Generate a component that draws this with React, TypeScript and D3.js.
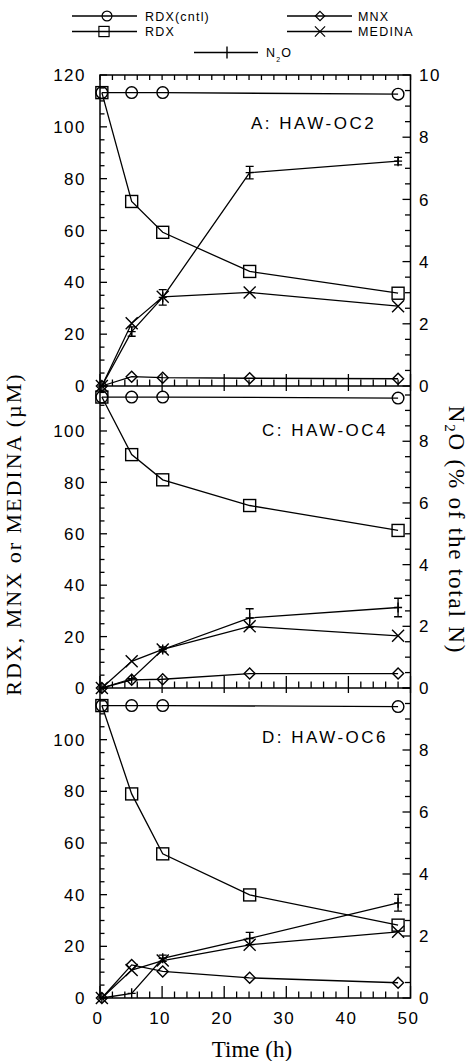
import React from 'react';
import * as d3 from 'd3';

// sampling times (h)
const times = [0.3, 5.1, 10.1, 24.1, 48];
const cntlTimes = [0.3, 5.1, 10.1, 48];

const panelNames = ['A: HAW-OC2', 'C: HAW-OC4', 'D: HAW-OC6'];
const panelYMax = [120, 117.5, 120];

// panel A: HAW-OC2
const rdxCntlA = [113.2, 113.2, 113.2, 112.6];
const rdxA = [113.2, 71.2, 59.3, 44.2, 35.8];
const mnxA = [0, 3.6, 3.2, 3.0, 2.8];
const medinaA = [0, 24.2, 34.4, 36.1, 30.8];
const n2oA = [0, 1.75, 2.85, 6.86, 7.23];
const n2oErrA = [0, 0.15, 0.25, 0.2, 0.12];

// panel C: HAW-OC4
const rdxCntlC = [113.2, 113.2, 113.2, 112.8];
const rdxC = [113.2, 90.8, 81.0, 71.0, 61.3];
const mnxC = [0, 3.2, 3.4, 5.6, 5.6];
const medinaC = [0, 10.4, 15.0, 24.0, 20.3];
const n2oC = [0, 0.3, 1.25, 2.27, 2.61];
const n2oErrC = [0, 0.05, 0.08, 0.3, 0.3];

// panel D: HAW-OC6
const rdxCntlD = [113.2, 113.2, 113.2, 112.8];
const rdxD = [113.2, 79.0, 55.8, 39.9, 28.2];
const mnxD = [0, 12.8, 10.3, 7.8, 5.9];
const medinaD = [0, 10.8, 14.5, 20.6, 25.6];
const n2oD = [0, 0.15, 1.28, 1.92, 3.07];
const n2oErrD = [0, 0.05, 0.1, 0.2, 0.27];

const panelData = [
  { cntl: rdxCntlA, rdx: rdxA, mnx: mnxA, medina: medinaA, n2o: n2oA, err: n2oErrA },
  { cntl: rdxCntlC, rdx: rdxC, mnx: mnxC, medina: medinaC, n2o: n2oC, err: n2oErrC },
  { cntl: rdxCntlD, rdx: rdxD, mnx: mnxD, medina: medinaD, n2o: n2oD, err: n2oErrD },
];

const xTickLabels = [0, 10, 20, 30, 40, 50];

// layout
const W = 468, H = 1061;
const X0 = 100, X1 = 410.5;
const panelTop = [75, 386, 688];
const panelBottom = [386, 688, 998];
const labelPos = [[251, 54], [262, 50], [262, 55]];

const SANS = '"Liberation Sans", Arial, Helvetica, sans-serif';
const SERIF = '"Liberation Serif", "Times New Roman", serif';
const K = '#000';

const x = d3.scaleLinear().domain([0, 50]).range([X0, X1]);

type MarkerKind = 'circle' | 'square' | 'diamond' | 'cross' | 'plus';

function Marker({ kind, cx, cy }: { kind: MarkerKind; cx: number; cy: number }) {
  const p = { fill: 'none', stroke: K, strokeWidth: 1.4 };
  if (kind === 'circle') return <circle cx={cx} cy={cy} r={5.8} {...p} />;
  if (kind === 'square') return <rect x={cx - 6} y={cy - 6} width={12} height={12} {...p} />;
  if (kind === 'diamond')
    return <path d={`M${cx},${cy - 5.5}L${cx + 5.5},${cy}L${cx},${cy + 5.5}L${cx - 5.5},${cy}Z`} {...p} />;
  if (kind === 'cross')
    return <path d={`M${cx - 6},${cy - 6}L${cx + 6},${cy + 6}M${cx - 6},${cy + 6}L${cx + 6},${cy - 6}`} {...p} />;
  return <path d={`M${cx},${cy - 5}L${cx},${cy + 5}M${cx - 4},${cy}L${cx + 4},${cy}`} {...p} />;
}

function Panel({ i }: { i: number }) {
  const top = panelTop[i], bottom = panelBottom[i];
  const yMax = panelYMax[i];
  const y = d3.scaleLinear().domain([0, yMax]).range([bottom, top]);
  const y2 = d3.scaleLinear().domain([0, yMax / 12]).range([bottom, top]);
  const d = panelData[i];
  const line = d3.line<[number, number]>().x(p => p[0]).y(p => p[1]);

  const series: { kind: MarkerKind; pts: [number, number][] }[] = [
    { kind: 'circle', pts: cntlTimes.map((t, j) => [x(t), y(d.cntl[j])]) },
    { kind: 'square', pts: times.map((t, j) => [x(t), y(d.rdx[j])]) },
    { kind: 'diamond', pts: times.map((t, j) => [x(t), y(d.mnx[j])]) },
    { kind: 'cross', pts: times.map((t, j) => [x(t), y(d.medina[j])]) },
    { kind: 'plus', pts: times.map((t, j) => [x(t), y2(d.n2o[j])]) },
  ];

  const leftTicks = d3.range(0, yMax + 0.01, 5);
  const rightTicks = d3.range(0, yMax / 12 + 0.001, 0.5);
  const xTicks = d3.range(0, 50.01, 2);
  const leftLabels = d3.range(0, yMax + 0.01, 20).filter(v => i === 0 || v < yMax - 1);
  const rightLabels = d3.range(0, yMax / 12 + 0.001, 2).filter(v => i === 0 || v < yMax / 12 - 0.1);

  return (
    <g>
      {/* left ticks */}
      {leftTicks.map(v => (
        <line key={'l' + v} x1={X0} x2={X0 + (v % 20 === 0 ? 7 : 4.5)} y1={y(v)} y2={y(v)} stroke={K} strokeWidth={1.3} />
      ))}
      {/* right ticks */}
      {rightTicks.map(v => (
        <line key={'r' + v} x1={X1} x2={X1 - (v % 2 === 0 ? 8 : 5.5)} y1={y2(v)} y2={y2(v)} stroke={K} strokeWidth={1.3} />
      ))}
      {/* bottom ticks (up) */}
      {xTicks.map(v => (
        <line key={'b' + v} x1={x(v)} x2={x(v)} y1={bottom} y2={bottom - (v % 10 === 0 ? 12 : 6.5)} stroke={K} strokeWidth={1.3} />
      ))}
      {/* top ticks (down) */}
      {xTicks.filter(v => i === 0 || v % 10 === 0).map(v => (
        <line key={'t' + v} x1={x(v)} x2={x(v)} y1={top} y2={top + 5} stroke={K} strokeWidth={1.3} />
      ))}
      {leftLabels.map(v => (
        <text key={'ll' + v} x={86} y={y(v)} dy="0.36em" textAnchor="end" fontFamily={SANS} fontSize={17} letterSpacing={1.5}>
          {v}
        </text>
      ))}
      {rightLabels.map(v => (
        <text key={'rl' + v} x={419} y={y2(v)} dy="0.36em" fontFamily={SANS} fontSize={17} letterSpacing={1.5}>
          {v}
        </text>
      ))}
      <text x={labelPos[i][0]} y={top + labelPos[i][1]} fontFamily={SANS} fontSize={17} letterSpacing={2.5}>
        {panelNames[i]}
      </text>
      {series.map((s, k) => (
        <path key={'s' + k} d={line(s.pts) || ''} fill="none" stroke={K} strokeWidth={1.3} />
      ))}
      {/* N2O error bars */}
      {times.map((t, j) =>
        d.err[j] > 0.06 ? (
          <path
            key={'e' + j}
            d={`M${x(t)},${y2(d.n2o[j] - d.err[j])}L${x(t)},${y2(d.n2o[j] + d.err[j])}M${x(t) - 4},${y2(d.n2o[j] - d.err[j])}L${x(t) + 4},${y2(d.n2o[j] - d.err[j])}M${x(t) - 4},${y2(d.n2o[j] + d.err[j])}L${x(t) + 4},${y2(d.n2o[j] + d.err[j])}`}
            fill="none"
            stroke={K}
            strokeWidth={1.3}
          />
        ) : null
      )}
      {series.map((s, k) => s.pts.map((p, j) => <Marker key={'m' + k + '-' + j} kind={s.kind} cx={p[0]} cy={p[1]} />))}
    </g>
  );
}

const legendItems: { label: string; kind: MarkerKind; x1: number; x2: number; mx: number; y: number; tx: number }[] = [
  { label: 'RDX(cntl)', kind: 'circle', x1: 72, x2: 137, mx: 107, y: 16, tx: 145 },
  { label: 'RDX', kind: 'square', x1: 72, x2: 137, mx: 104, y: 31.5, tx: 145 },
  { label: 'MNX', kind: 'diamond', x1: 287, x2: 352, mx: 320, y: 16, tx: 358 },
  { label: 'MEDINA', kind: 'cross', x1: 287, x2: 352, mx: 320, y: 31.5, tx: 358 },
];

export default function App() {
  return (
    <svg width={W} height={H} style={{ position: 'absolute', left: 0, top: 0, background: '#fff' }}>
      <rect width={W} height={H} fill="#fff" />
      {/* legend */}
      {legendItems.map(it => (
        <g key={it.label}>
          <line x1={it.x1} x2={it.x2} y1={it.y} y2={it.y} stroke={K} strokeWidth={1.3} />
          <g transform={`translate(${it.mx},${it.y}) scale(0.85) translate(${-it.mx},${-it.y})`}>
            <Marker kind={it.kind} cx={it.mx} cy={it.y} />
          </g>
          <text x={it.tx} y={it.y} dy="0.36em" fontFamily={SANS} fontSize={12.5} letterSpacing={1.2}>
            {it.label}
          </text>
        </g>
      ))}
      <line x1={194} x2={258} y1={52.5} y2={52.5} stroke={K} strokeWidth={1.3} />
      <line x1={227} x2={227} y1={46.5} y2={58.5} stroke={K} strokeWidth={1.4} />
      <text x={266} y={52.5} dy="0.36em" fontFamily={SANS} fontSize={12.5} letterSpacing={1.2}>
        N<tspan fontSize={7} dy={5}>2</tspan>
        <tspan dy={-5}>O</tspan>
      </text>

      {[0, 1, 2].map(i => (
        <Panel key={i} i={i} />
      ))}

      {/* frame */}
      <rect x={X0} y={panelTop[0]} width={X1 - X0} height={panelBottom[2] - panelTop[0]} fill="none" stroke={K} strokeWidth={1.5} />
      <line x1={X0} x2={X1} y1={panelBottom[0]} y2={panelBottom[0]} stroke={K} strokeWidth={1.5} />
      <line x1={X0} x2={X1} y1={panelBottom[1]} y2={panelBottom[1]} stroke={K} strokeWidth={1.5} />

      {/* x tick labels */}
      {xTickLabels.map(v => (
        <text key={'x' + v} x={x(v) - 2} y={panelBottom[2] + 20} dy="0.36em" textAnchor="middle" fontFamily={SANS} fontSize={17} letterSpacing={1.5}>
          {v}
        </text>
      ))}

      {/* axis titles */}
      <text x={252} y={1057} textAnchor="middle" fontFamily={SERIF} fontSize={23}>
        Time (h)
      </text>
      <text transform="translate(21,534) rotate(-90)" textAnchor="middle" fontFamily={SERIF} fontSize={22} letterSpacing={2}>
        RDX, MNX or MEDINA (µM)
      </text>
      <text transform="translate(449,530) rotate(90)" textAnchor="middle" fontFamily={SERIF} fontSize={23} letterSpacing={1.8}>
        N<tspan fontSize={15} dy={4}>2</tspan>
        <tspan dy={-4}>O (% of the total N)</tspan>
      </text>
    </svg>
  );
}
